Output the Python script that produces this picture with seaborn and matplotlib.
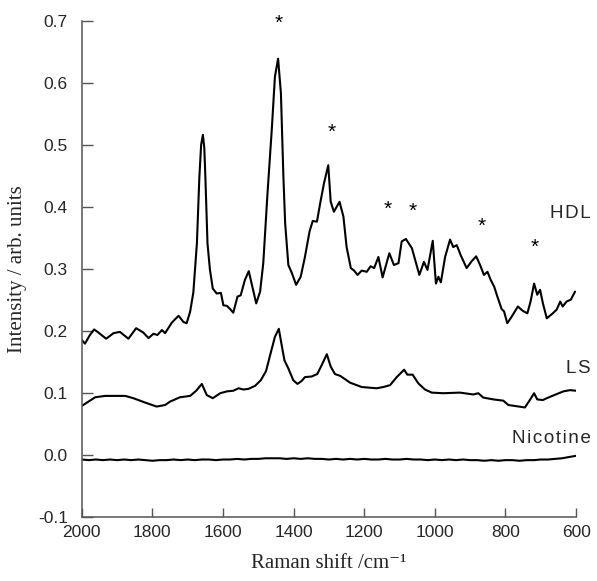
import numpy as np
import pandas as pd
import seaborn as sns
from matplotlib import pyplot as plt

# HDL spectrum (Raman shift / cm-1, intensity)
hdl_shift = [2000, 1991, 1977, 1965, 1953, 1931, 1910, 1892, 1868, 1846,
             1826, 1811, 1797, 1786, 1773, 1764, 1745, 1726, 1712, 1703,
             1693, 1684, 1674, 1667, 1662, 1657, 1653, 1650, 1644, 1637,
             1629, 1618, 1606, 1599, 1589, 1580, 1571, 1559, 1550, 1538,
             1527, 1519, 1506, 1495, 1486, 1474, 1462, 1453, 1444, 1436,
             1429, 1424, 1415, 1405, 1393, 1380, 1368, 1355, 1346, 1334,
             1325, 1314, 1302, 1295, 1286, 1270, 1259, 1250, 1238, 1229,
             1219, 1207, 1193, 1182, 1172, 1160, 1148, 1129, 1116, 1103,
             1094, 1082, 1065, 1044, 1031, 1021, 1006, 997, 990, 983,
             971, 957, 948, 938, 927, 910, 896, 883, 872, 861,
             851, 842, 832, 823, 811, 804, 795, 782, 765, 751,
             738, 729, 719, 710, 702, 694, 683, 666, 655, 645,
             638, 627, 615, 603]
hdl_int = [0.185, 0.179, 0.193, 0.202, 0.197, 0.187, 0.196, 0.198, 0.187, 0.204,
           0.197, 0.188, 0.195, 0.193, 0.201, 0.196, 0.213, 0.224, 0.214, 0.212,
           0.231, 0.262, 0.341, 0.448, 0.500, 0.516, 0.495, 0.448, 0.341, 0.298,
           0.268, 0.260, 0.261, 0.241, 0.240, 0.235, 0.229, 0.255, 0.257, 0.282,
           0.296, 0.276, 0.244, 0.263, 0.309, 0.422, 0.524, 0.610, 0.639, 0.583,
           0.448, 0.373, 0.306, 0.293, 0.274, 0.287, 0.319, 0.360, 0.377, 0.376,
           0.405, 0.438, 0.467, 0.408, 0.392, 0.408, 0.384, 0.335, 0.301, 0.297,
           0.290, 0.297, 0.295, 0.304, 0.301, 0.319, 0.286, 0.325, 0.306, 0.309,
           0.344, 0.348, 0.333, 0.290, 0.311, 0.298, 0.345, 0.276, 0.287, 0.278,
           0.319, 0.347, 0.335, 0.338, 0.322, 0.301, 0.312, 0.320, 0.306, 0.290,
           0.295, 0.282, 0.271, 0.255, 0.235, 0.231, 0.212, 0.223, 0.239, 0.232,
           0.228, 0.247, 0.276, 0.258, 0.266, 0.244, 0.220, 0.228, 0.234, 0.247,
           0.239, 0.247, 0.250, 0.263]

# LS spectrum
ls_shift = [2000, 1981, 1962, 1934, 1877, 1854, 1821, 1788, 1764, 1750,
            1722, 1693, 1676, 1660, 1646, 1629, 1608, 1589, 1571, 1556,
            1542, 1528, 1509, 1493, 1478, 1465, 1453, 1442, 1434, 1426,
            1415, 1401, 1389, 1377, 1368, 1349, 1333, 1320, 1306, 1295,
            1283, 1268, 1240, 1207, 1165, 1146, 1127, 1108, 1087, 1078,
            1063, 1047, 1028, 1009, 976, 929, 891, 877, 863, 834,
            806, 792, 768, 745, 731, 719, 710, 694, 683, 662,
            636, 617, 600]
ls_int = [0.0785, 0.0855, 0.0925, 0.0947, 0.0947, 0.091, 0.084, 0.0775, 0.080, 0.0855,
          0.0925, 0.0947, 0.103, 0.114, 0.096, 0.091, 0.099, 0.102, 0.103, 0.107,
          0.105, 0.106, 0.111, 0.120, 0.135, 0.164, 0.190, 0.203, 0.177, 0.152,
          0.139, 0.120, 0.114, 0.119, 0.125, 0.126, 0.130, 0.145, 0.162, 0.142,
          0.130, 0.127, 0.116, 0.109, 0.107, 0.109, 0.112, 0.125, 0.137, 0.129,
          0.129, 0.115, 0.105, 0.100, 0.099, 0.100, 0.097, 0.099, 0.092, 0.089,
          0.087, 0.080, 0.078, 0.076, 0.088, 0.099, 0.089, 0.088, 0.091, 0.096,
          0.102, 0.104, 0.103]

# Nicotine spectrum, every 20 cm-1 from 2000 to 600
nic_shift = list(range(2000, 599, -20))
nic_int = [-0.008, -0.009, -0.008, -0.009, -0.008, -0.009, -0.008, -0.009, -0.008, -0.009,
           -0.010, -0.009, -0.009, -0.008, -0.009, -0.008, -0.009, -0.008, -0.008, -0.009,
           -0.008, -0.008, -0.007, -0.008, -0.007, -0.007, -0.006, -0.006, -0.006, -0.007,
           -0.006, -0.007, -0.006, -0.007, -0.007, -0.008, -0.007, -0.008, -0.007, -0.008,
           -0.007, -0.008, -0.008, -0.007, -0.008, -0.008, -0.007, -0.008, -0.008, -0.009,
           -0.008, -0.009, -0.008, -0.009, -0.008, -0.009, -0.009, -0.010, -0.009, -0.010,
           -0.009, -0.009, -0.010, -0.009, -0.009, -0.008, -0.008, -0.007, -0.006, -0.004,
           -0.002]

# peaks marked with asterisks
star_shift = [1442, 1291, 1135, 1063, 868, 717]
star_y = [0.696, 0.520, 0.396, 0.393, 0.369, 0.335]

labels = ['HDL', 'LS', 'Nicotine']
label_y = [0.389, 0.139, 0.026]

df = pd.concat([
    pd.DataFrame({'shift': hdl_shift, 'intensity': hdl_int, 'sample': 'HDL'}),
    pd.DataFrame({'shift': ls_shift, 'intensity': ls_int, 'sample': 'LS'}),
    pd.DataFrame({'shift': nic_shift, 'intensity': nic_int, 'sample': 'Nicotine'}),
])

sns.set_style('ticks')
plt.rcParams['font.family'] = ['Liberation Sans', 'DejaVu Sans']
plt.rcParams['axes.unicode_minus'] = False

fig, ax = plt.subplots(figsize=(5.97, 5.81), dpi=100)
fig.subplots_adjust(left=0.137, right=0.965, bottom=0.111, top=0.964)

sns.lineplot(data=df, x='shift', y='intensity', units='sample', estimator=None,
             color='black', linewidth=1.5, ax=ax, legend=False)

for xs, ys in zip(star_shift, star_y):
    ax.text(xs, ys, '*', ha='center', va='center', fontsize=15, color='black')

# curve labels, spaced out a little like the original
for lab, ly in zip(labels, label_y):
    ax.text(1.03, ly, '\u200a'.join(lab), transform=ax.get_yaxis_transform(),
            ha='right', va='center', fontsize=13.5, clip_on=False)

ax.set_xlim(2000, 600)
ax.set_ylim(-0.1, 0.7)
ax.set_xticks(np.arange(2000, 599, -200))
ax.set_yticks(np.arange(-0.1, 0.71, 0.1))
ax.set_yticklabels(['-0.1', '0.0', '0.1', '0.2', '0.3', '0.4', '0.5', '0.6', '0.7'])

serif = ['Liberation Serif', 'DejaVu Serif']
ax.set_xlabel('Raman shift /cm\u207b\u00b9', family=serif, fontsize=15, labelpad=10)
ax.set_ylabel('Intensity / arb. units', family=serif, fontsize=15, labelpad=8)

ax.tick_params(axis='y', direction='in', length=8, width=1, color='#555555',
               labelsize=12.5, pad=10)
ax.tick_params(axis='x', direction='in', length=6.5, width=1, color='#555555',
               labelsize=12.5, pad=6)
sns.despine(ax=ax)
for side in ['left', 'bottom']:
    ax.spines[side].set_color('#555555')
    ax.spines[side].set_linewidth(1.1)

plt.savefig('out.png', dpi=100)
